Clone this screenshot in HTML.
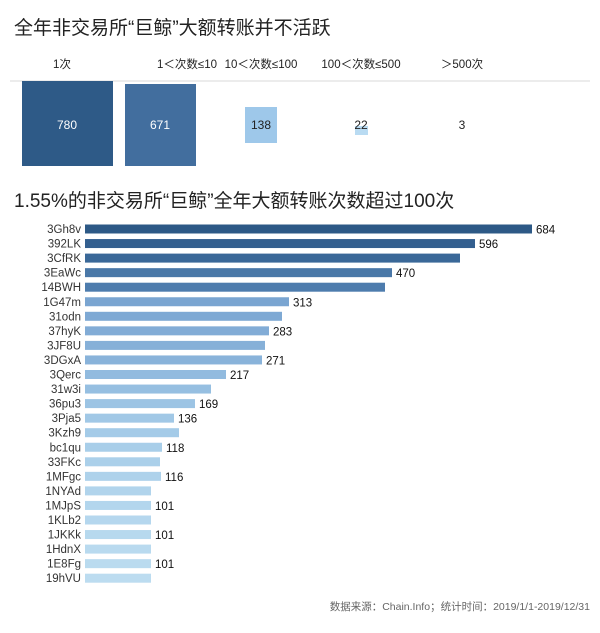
<!DOCTYPE html>
<html><head><meta charset="utf-8"><style>
html,body{margin:0;padding:0;background:#fff;}
body{width:600px;height:628px;overflow:hidden;font-family:"Liberation Sans","Noto Sans CJK SC",sans-serif;}
</style></head><body>
<svg width="600" height="628" xmlns="http://www.w3.org/2000/svg" font-family="Liberation Sans, Noto Sans CJK SC, sans-serif">
<text x="14" y="34" font-size="19" fill="#222">全年非交易所“巨鲸”大额转账并不活跃</text>
<g font-size="11.5" fill="#222" text-anchor="middle">
<text x="62" y="68">1次</text>
<text x="187" y="68">1＜次数≤10</text>
<text x="261" y="68">10＜次数≤100</text>
<text x="361" y="68">100＜次数≤500</text>
<text x="462" y="68">＞500次</text>
</g>
<line x1="10" y1="81" x2="590" y2="81" stroke="#e6e6e6" stroke-width="1.5"/>
<rect x="22" y="81" width="91" height="85" fill="#2e5a87"/>
<rect x="125" y="84" width="71" height="82" fill="#426e9e"/>
<rect x="245" y="107" width="32" height="36" fill="#9ec8ea"/>
<rect x="355" y="126" width="13" height="9" fill="#b9dbf2"/>
<g font-size="12" text-anchor="middle">
<text x="67" y="129" fill="#fff">780</text>
<text x="160" y="129" fill="#fff">671</text>
<text x="261" y="129" fill="#222">138</text>
<text x="361" y="129" fill="#222">22</text>
<text x="462" y="129" fill="#222">3</text>
</g>
<text x="14" y="207" font-size="19" fill="#222">1.55%的非交易所“巨鲸”全年大额转账次数超过100次</text>
<g id="bars" font-size="11.5"></g>
<text x="590" y="610" font-size="10.5" fill="#666" text-anchor="end">数据来源：Chain.Info；统计时间：2019/1/1-2019/12/31</text>
</svg>
<script>
var d=[["3Gh8v",532,"684","#2d5986"],["392LK",475,"596","#335f8f"],["3CfRK",460,"","#3a6898"],["3EaWc",392,"470","#4a78a8"],["14BWH",385,"","#4d7cad"],["1G47m",289,"313","#7aa5d1"],["31odn",282,"","#7ea9d4"],["37hyK",269,"283","#82acd6"],["3JF8U",265,"","#86b0d8"],["3DGxA",262,"271","#89b3da"],["3Qerc",226,"217","#92bbdf"],["31w3i",211,"","#96bfe1"],["36pu3",195,"169","#9cc4e4"],["3Pja5",174,"136","#a1c8e6"],["3Kzh9",179,"","#a4cbe8"],["bc1qu",162,"118","#a8cee9"],["33FKc",160,"","#abd0ea"],["1MFgc",161,"116","#aed2eb"],["1NYAd",151,"","#b1d4ec"],["1MJpS",151,"101","#b3d6ed"],["1KLb2",151,"","#b5d7ee"],["1JKKk",151,"101","#b7d9ee"],["1HdnX",151,"","#b9daef"],["1E8Fg",151,"101","#badbef"],["19hVU",151,"","#bcdcf0"]];
var g=document.getElementById('bars'),s='';
for(var i=0;i<d.length;i++){var y=229+i*14.55;
s+='<text x="81" y="'+(y+4)+'" text-anchor="end" fill="#333">'+d[i][0]+'</text>';
s+='<rect x="85" y="'+(y-4.5)+'" width="'+(d[i][1]-85)+'" height="9" fill="'+d[i][3]+'"/>';
if(d[i][2])s+='<text x="'+(d[i][1]+4)+'" y="'+(y+4.5)+'" fill="#111">'+d[i][2]+'</text>';}
g.innerHTML=s;
</script>
</body></html>
